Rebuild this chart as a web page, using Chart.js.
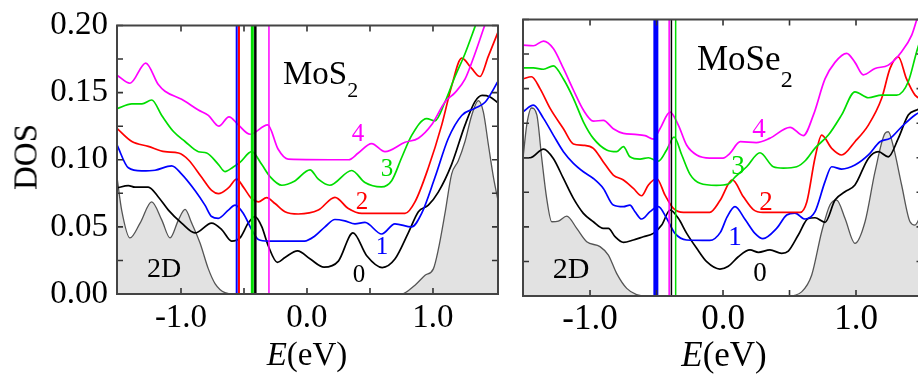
<!DOCTYPE html>
<html>
<head>
<meta charset="utf-8">
<script src="https://cdn.jsdelivr.net/npm/chart.js@4.4.1/dist/chart.umd.min.js"></script>
<style>
    html, body { margin: 0; padding: 0; background: #fff; }
    .wrap { position: relative; width: 918px; height: 379px; overflow: hidden; background: #fff; }
    canvas { position: absolute; top: 0; }
    #cvMoS2 { left: 0; }
    #cvMoSe2 { left: 510px; }
    .txt { position: absolute; font-family: 'Liberation Serif', 'Times New Roman', serif; line-height: 1; white-space: nowrap; color: #000; }
    .c { transform: translate(-50%, -50%); }
    .txt sub { position: relative; vertical-align: baseline; line-height: 0; }
</style>
</head>
<body>
<div class="wrap">
    <canvas id="cvMoS2" width="510" height="379"></canvas>
    <canvas id="cvMoSe2" width="425" height="379"></canvas>

    <!-- textes du panneau gauche -->
    <div class="txt c" style="left:26px;top:157px;font-size:33px;transform:translate(-50%,-50%) rotate(-90deg);">DOS</div>
    <div class="txt c" style="left:307px;top:354px;font-size:33px;"><i>E</i>(eV)</div>
    <div class="txt" style="left:283px;top:57.4px;font-size:33px;">MoS<sub style="font-size:22px;top:13px;">2</sub></div>
    <div class="txt c" style="left:164px;top:268px;font-size:28px;">2D</div>
    <div id="lblMoS2"></div>

    <!-- textes du panneau droit -->
    <div class="txt c" style="left:724px;top:354px;font-size:35px;"><i>E</i>(eV)</div>
    <div class="txt" style="left:697px;top:40.7px;font-size:35px;">MoSe<sub style="font-size:24px;top:17px;">2</sub></div>
    <div class="txt c" style="left:571px;top:268px;font-size:30px;">2D</div>
    <div id="lblMoSe2"></div>
</div>

<script>
// ---- axes ----
const xTickValues = [-1.0, -0.5, 0.0, 0.5, 1.0];
const xTickLabels = ['-1.0', '', '0.0', '', '1.0'];
const yTickValues = [0, 0.025, 0.05, 0.075, 0.10, 0.125, 0.15, 0.175, 0.20];
const yTickLabels = ['0.00', '', '0.05', '', '0.10', '', '0.15', '', '0.20'];
const curveNames = ['0', '1', '2', '3', '4'];

// ---- MoS2 : [E (eV), DOS] ----
const mos2Curve4 = [[-1.508,0.163],[-1.405,0.157],[-1.28,0.172],[-1.18,0.156],[-1.127,0.151],[-0.995,0.145],[-0.862,0.137],[-0.783,0.133],[-0.70,0.125],[-0.619,0.132],[-0.545,0.126],[-0.452,0.119],[-0.312,0.126],[-0.23,0.108],[-0.15,0.1005],[0.33,0.100],[0.407,0.105],[0.513,0.112],[0.619,0.106],[0.778,0.113],[0.884,0.116],[0.989,0.126],[1.095,0.143],[1.175,0.150],[1.254,0.160],[1.333,0.179],[1.41,0.200],[1.44,0.208]];
const mos2Curve3 = [[-1.508,0.138],[-1.39,0.1416],[-1.31,0.1416],[-1.233,0.1445],[-1.153,0.133],[-1.06,0.121],[-0.968,0.1136],[-0.862,0.106],[-0.796,0.105],[-0.704,0.0966],[-0.651,0.0912],[-0.585,0.0946],[-0.532,0.098],[-0.439,0.106],[-0.36,0.0966],[-0.294,0.0875],[-0.2,0.081],[-0.1,0.084],[0.024,0.0925],[0.09,0.0855],[0.18,0.081],[0.355,0.092],[0.46,0.083],[0.59,0.0798],[0.672,0.0844],[0.751,0.1015],[0.83,0.118],[0.95,0.1307],[1.016,0.129],[1.095,0.143],[1.175,0.162],[1.254,0.179],[1.333,0.199],[1.36,0.206]];
const mos2Curve2 = [[-1.508,0.1234],[-1.39,0.1136],[-1.26,0.110],[-1.127,0.106],[-1.02,0.105],[-0.942,0.100],[-0.836,0.0869],[-0.757,0.0771],[-0.704,0.0747],[-0.624,0.079],[-0.558,0.0856],[-0.505,0.0796],[-0.439,0.071],[-0.386,0.0686],[-0.32,0.0718],[-0.254,0.0674],[-0.175,0.0613],[-0.069,0.0596],[0.09,0.0625],[0.222,0.0720],[0.328,0.0637],[0.434,0.060],[0.778,0.060],[0.857,0.0686],[0.963,0.094],[1.069,0.1258],[1.148,0.155],[1.228,0.1757],[1.307,0.168],[1.373,0.162],[1.439,0.177],[1.52,0.196]];
const mos2Curve1 = [[-1.508,0.111],[-1.418,0.094],[-1.312,0.0917],[-1.206,0.0922],[-1.074,0.0954],[-0.995,0.0893],[-0.889,0.0771],[-0.81,0.0662],[-0.757,0.0577],[-0.704,0.0564],[-0.624,0.0625],[-0.571,0.0662],[-0.505,0.060],[-0.439,0.048],[-0.386,0.0406],[-0.307,0.0394],[-0.02,0.0394],[0.06,0.043],[0.143,0.050],[0.222,0.0555],[0.30,0.0545],[0.381,0.0523],[0.46,0.0533],[0.593,0.0447],[0.698,0.0523],[0.83,0.050],[0.91,0.060],[1.016,0.0869],[1.122,0.116],[1.228,0.133],[1.333,0.1384],[1.413,0.1428],[1.52,0.159]];
const mos2Curve0 = [[-1.508,0.079],[-1.418,0.0808],[-1.365,0.0796],[-1.26,0.0796],[-1.18,0.0723],[-1.1,0.0625],[-0.995,0.0528],[-0.889,0.0455],[-0.757,0.0528],[-0.677,0.048],[-0.598,0.0394],[-0.532,0.0418],[-0.466,0.0528],[-0.413,0.0577],[-0.36,0.0504],[-0.307,0.0358],[-0.235,0.0236],[-0.175,0.0272],[-0.075,0.0321],[0.026,0.026],[0.135,0.020],[0.249,0.0245],[0.365,0.0455],[0.474,0.0285],[0.597,0.0197],[0.698,0.026],[0.804,0.0455],[0.884,0.0613],[0.963,0.0662],[1.042,0.0759],[1.148,0.0966],[1.254,0.1258],[1.333,0.1433],[1.39,0.148],[1.45,0.147],[1.52,0.142]];
const mos2Dos2D = [[-1.508,0.087],[-1.47,0.062],[-1.405,0.0418],[-1.325,0.0528],[-1.233,0.0686],[-1.153,0.0552],[-1.087,0.0418],[-1.02,0.0552],[-0.968,0.063],[-0.915,0.0528],[-0.849,0.038],[-0.783,0.0187],[-0.73,0.0078],[-0.651,0.001],[-0.58,0],[0.75,0],[0.857,0.0066],[0.937,0.0139],[1.003,0.0187],[1.042,0.033],[1.095,0.060],[1.148,0.0893],[1.2,0.099],[1.254,0.1136],[1.307,0.133],[1.36,0.144],[1.4,0.1355],[1.44,0.111],[1.48,0.0869],[1.52,0.068]];
const mos2MarkerE = [-0.558, -0.540, -0.434, -0.410, -0.302];

// ---- MoSe2 : [E (eV), DOS] ----
const mose2Curve4 = [[-1.504,0.1815],[-1.426,0.181],[-1.35,0.1844],[-1.276,0.179],[-1.2,0.1646],[-1.125,0.149],[-1.05,0.1345],[-0.975,0.1265],[-0.90,0.127],[-0.825,0.121],[-0.749,0.1176],[-0.662,0.1169],[-0.586,0.116],[-0.524,0.1135],[-0.474,0.121],[-0.398,0.133],[-0.336,0.1236],[-0.273,0.109],[-0.198,0.102],[-0.1,0.0998],[0.0,0.0998],[0.05,0.103],[0.13,0.1116],[0.25,0.111],[0.35,0.114],[0.504,0.122],[0.604,0.116],[0.68,0.131],[0.767,0.157],[0.842,0.169],[0.93,0.1755],[0.992,0.169],[1.055,0.160],[1.143,0.1646],[1.243,0.167],[1.343,0.1767],[1.419,0.1887],[1.456,0.1996],[1.48,0.207]];
const mose2Curve3 = [[-1.504,0.165],[-1.426,0.165],[-1.35,0.164],[-1.276,0.1665],[-1.2,0.157],[-1.125,0.143],[-1.05,0.126],[-0.975,0.114],[-0.875,0.1056],[-0.8,0.1044],[-0.749,0.108],[-0.70,0.1007],[-0.624,0.099],[-0.561,0.100],[-0.486,0.0976],[-0.424,0.1056],[-0.368,0.115],[-0.31,0.102],[-0.248,0.088],[-0.173,0.0815],[-0.05,0.080],[0.04,0.081],[0.09,0.086],[0.178,0.0935],[0.278,0.1036],[0.378,0.0935],[0.454,0.0925],[0.554,0.0935],[0.62,0.098],[0.692,0.107],[0.792,0.1164],[0.892,0.131],[0.992,0.1477],[1.093,0.1434],[1.193,0.1453],[1.306,0.1453],[1.393,0.155],[1.456,0.1767],[1.5,0.19]];
const mose2Curve2 = [[-1.504,0.157],[-1.44,0.1586],[-1.376,0.150],[-1.3,0.1357],[-1.2,0.121],[-1.125,0.110],[-1.05,0.109],[-0.975,0.1068],[-0.90,0.097],[-0.825,0.0875],[-0.749,0.0839],[-0.674,0.0778],[-0.612,0.0725],[-0.561,0.0803],[-0.499,0.085],[-0.436,0.073],[-0.373,0.0634],[-0.298,0.0605],[-0.1,0.0605],[-0.023,0.069],[0.07,0.084],[0.153,0.0718],[0.228,0.0625],[0.3,0.0605],[0.58,0.0605],[0.63,0.068],[0.692,0.100],[0.742,0.1164],[0.817,0.1068],[0.892,0.102],[0.992,0.1116],[1.093,0.1236],[1.193,0.143],[1.256,0.1646],[1.318,0.173],[1.38,0.157],[1.444,0.1453],[1.5,0.142]];
const mose2Curve1 = [[-1.504,0.1333],[-1.426,0.138],[-1.35,0.1285],[-1.276,0.1164],[-1.2,0.1044],[-1.125,0.096],[-1.05,0.0899],[-0.975,0.085],[-0.90,0.0778],[-0.825,0.0658],[-0.749,0.0646],[-0.70,0.0658],[-0.662,0.061],[-0.612,0.0557],[-0.549,0.061],[-0.486,0.0646],[-0.424,0.0562],[-0.361,0.0453],[-0.273,0.0405],[-0.1,0.0402],[-0.02,0.046],[0.03,0.057],[0.09,0.0646],[0.165,0.0555],[0.24,0.0453],[0.3,0.0415],[0.403,0.0489],[0.479,0.0586],[0.541,0.060],[0.617,0.0557],[0.692,0.061],[0.767,0.0827],[0.817,0.0935],[0.892,0.0918],[0.992,0.0947],[1.093,0.102],[1.18,0.1116],[1.256,0.114],[1.343,0.1224],[1.444,0.1309],[1.5,0.134]];
const mose2Curve0 = [[-1.504,0.100],[-1.45,0.100],[-1.35,0.1063],[-1.276,0.0995],[-1.2,0.085],[-1.125,0.0706],[-1.05,0.0598],[-0.975,0.0537],[-0.90,0.0489],[-0.862,0.0489],[-0.812,0.0429],[-0.749,0.0388],[-0.674,0.0405],[-0.599,0.0429],[-0.524,0.0453],[-0.461,0.0513],[-0.398,0.0622],[-0.336,0.0562],[-0.273,0.0453],[-0.198,0.0345],[-0.123,0.0248],[-0.023,0.0195],[0.04,0.0215],[0.115,0.0284],[0.203,0.0333],[0.266,0.0316],[0.353,0.0333],[0.441,0.0309],[0.491,0.0325],[0.566,0.0441],[0.642,0.0562],[0.692,0.0566],[0.767,0.0533],[0.842,0.0694],[0.917,0.0754],[0.992,0.0803],[1.093,0.0995],[1.168,0.1044],[1.243,0.1007],[1.318,0.114],[1.393,0.1309],[1.456,0.1345],[1.5,0.136]];
const mose2Dos2D = [[-1.504,0.0995],[-1.476,0.1236],[-1.44,0.136],[-1.40,0.131],[-1.363,0.0995],[-1.326,0.0706],[-1.288,0.0537],[-1.238,0.0542],[-1.175,0.0578],[-1.1,0.0489],[-1.025,0.0393],[-0.925,0.0357],[-0.862,0.0296],[-0.8,0.0164],[-0.724,0.0055],[-0.65,0.001],[-0.574,0],[0.49,0],[0.591,0.003],[0.667,0.0152],[0.742,0.0465],[0.804,0.0658],[0.855,0.0694],[0.917,0.0562],[0.992,0.0381],[1.068,0.0537],[1.143,0.0899],[1.218,0.1176],[1.243,0.1188],[1.281,0.108],[1.343,0.0803],[1.406,0.0537],[1.444,0.0513],[1.5,0.062]];
const mose2MarkerE = [-0.505, -0.505, -0.405, -0.388, -0.356];

(function() {
    const SERIF = "'Liberation Serif', 'Times New Roman', serif";
    const curveColors = ['#000000', '#0000ff', '#ff0000', '#00dd00', '#ff00ff'];

    function curve(points, color, width) {
        return {
            data: points.map(p => ({ x: p[0], y: p[1] })),
            borderColor: color,
            borderWidth: width,
            pointRadius: 0,
            fill: false,
            cubicInterpolationMode: 'monotone',
            clip: 0
        };
    }

    function marker(e, color, width) {
        return {
            data: [{ x: e, y: 0 }, { x: e, y: 0.2 }],
            borderColor: color,
            borderWidth: width,
            pointRadius: 0,
            fill: false,
            clip: 0
        };
    }

    // cadre + graduations vers l'intérieur (4 côtés)
    const frameTicks = {
        id: 'frameTicks',
        afterDatasetsDraw(chart) {
            const { ctx, chartArea: a, scales: { x, y } } = chart;
            ctx.save();
            ctx.strokeStyle = '#333';
            ctx.lineWidth = 1.6;
            ctx.beginPath();
            x.ticks.forEach(t => {
                const px = x.getPixelForValue(t.value);
                ctx.moveTo(px, a.bottom); ctx.lineTo(px, a.bottom - 6);
                ctx.moveTo(px, a.top); ctx.lineTo(px, a.top + 6);
            });
            y.ticks.forEach(t => {
                const py = y.getPixelForValue(t.value);
                ctx.moveTo(a.left, py); ctx.lineTo(a.left + 6, py);
                ctx.moveTo(a.right, py); ctx.lineTo(a.right - 6, py);
            });
            ctx.stroke();
            ctx.strokeStyle = '#444';
            ctx.lineWidth = 2;
            ctx.strokeRect(a.left, a.top, a.right - a.left, a.bottom - a.top);
            ctx.restore();
        }
    };

    function makePanel(id, curves, dos2D, markerE, markerStyle, cfg) {
        const datasets = [];
        markerE.forEach((e, i) => datasets.push(marker(e, markerStyle[i][0], markerStyle[i][1])));
        for (let i = curves.length - 1; i >= 0; i--) {
            datasets.push(curve(curves[i], curveColors[i], 1.7));
        }
        const bg = curve(dos2D, '#555555', 1.3);
        bg.fill = 'origin';
        bg.backgroundColor = '#e2e2e2';
        datasets.push(bg);

        new Chart(document.getElementById(id), {
            type: 'line',
            data: { datasets: datasets },
            options: {
                responsive: false,
                animation: false,
                events: [],
                layout: { padding: { left: 0, right: cfg.padRight, top: 19.5, bottom: 0 } },
                plugins: { legend: { display: false }, tooltip: { enabled: false } },
                scales: {
                    x: {
                        type: 'linear',
                        min: cfg.xMin,
                        max: cfg.xMax,
                        grid: { display: false, drawTicks: false },
                        border: { display: false },
                        afterBuildTicks: s => { s.ticks = xTickValues.map(v => ({ value: v })); },
                        afterFit: s => { s.height = cfg.xHeight; },
                        ticks: {
                            autoSkip: false, maxRotation: 0, padding: cfg.xPad, color: '#000',
                            font: { family: SERIF, size: cfg.font, lineHeight: 1 },
                            callback: (v, i) => xTickLabels[i]
                        }
                    },
                    y: {
                        type: 'linear',
                        min: 0,
                        max: 0.2,
                        grid: { display: false, drawTicks: false },
                        border: { display: false },
                        afterBuildTicks: s => { s.ticks = yTickValues.map(v => ({ value: v })); },
                        afterFit: s => { s.width = cfg.yWidth; },
                        ticks: {
                            display: cfg.yLabels, autoSkip: false, padding: 9, color: '#000',
                            font: { family: SERIF, size: cfg.font, lineHeight: 1 },
                            callback: (v, i) => yTickLabels[i]
                        }
                    }
                }
            },
            plugins: [frameTicks]
        });
    }

    function placeLabels(holderId, spots, size) {
        const holder = document.getElementById(holderId);
        curveNames.forEach((name, i) => {
            const d = document.createElement('div');
            d.className = 'txt c';
            d.style.left = spots[i][0] + 'px';
            d.style.top = spots[i][1] + 'px';
            d.style.fontSize = size + 'px';
            d.style.color = curveColors[i];
            d.textContent = name;
            holder.appendChild(d);
        });
    }

    makePanel('cvMoS2',
        [mos2Curve0, mos2Curve1, mos2Curve2, mos2Curve3, mos2Curve4], mos2Dos2D, mos2MarkerE,
        [['#0000ff', 2], ['#ff0000', 2], ['#00dd00', 3], ['#000000', 2.5], ['#ff00ff', 1.5]],
        { xMin: -1.508, xMax: 1.516, padRight: 12, xHeight: 85, yWidth: 117, xPad: 8, font: 33, yLabels: true });

    makePanel('cvMoSe2',
        [mose2Curve0, mose2Curve1, mose2Curve2, mose2Curve3, mose2Curve4], mose2Dos2D, mose2MarkerE,
        [['#0000ff', 5], ['#ff0000', 1.5], ['#ff00ff', 1.5], ['#000000', 1.5], ['#00dd00', 1.5]],
        { xMin: -1.504, xMax: 1.5, padRight: 12.5, xHeight: 83, yWidth: 13, xPad: 6.5, font: 35, yLabels: false });

    placeLabels('lblMoS2', [[359, 273], [382, 245], [362, 200], [387, 167], [358, 131.5]], 25);
    placeLabels('lblMoSe2', [[760, 271.5], [735, 236], [766, 201], [738, 165], [759, 127.5]], 27);
})();
</script>
</body>
</html>
